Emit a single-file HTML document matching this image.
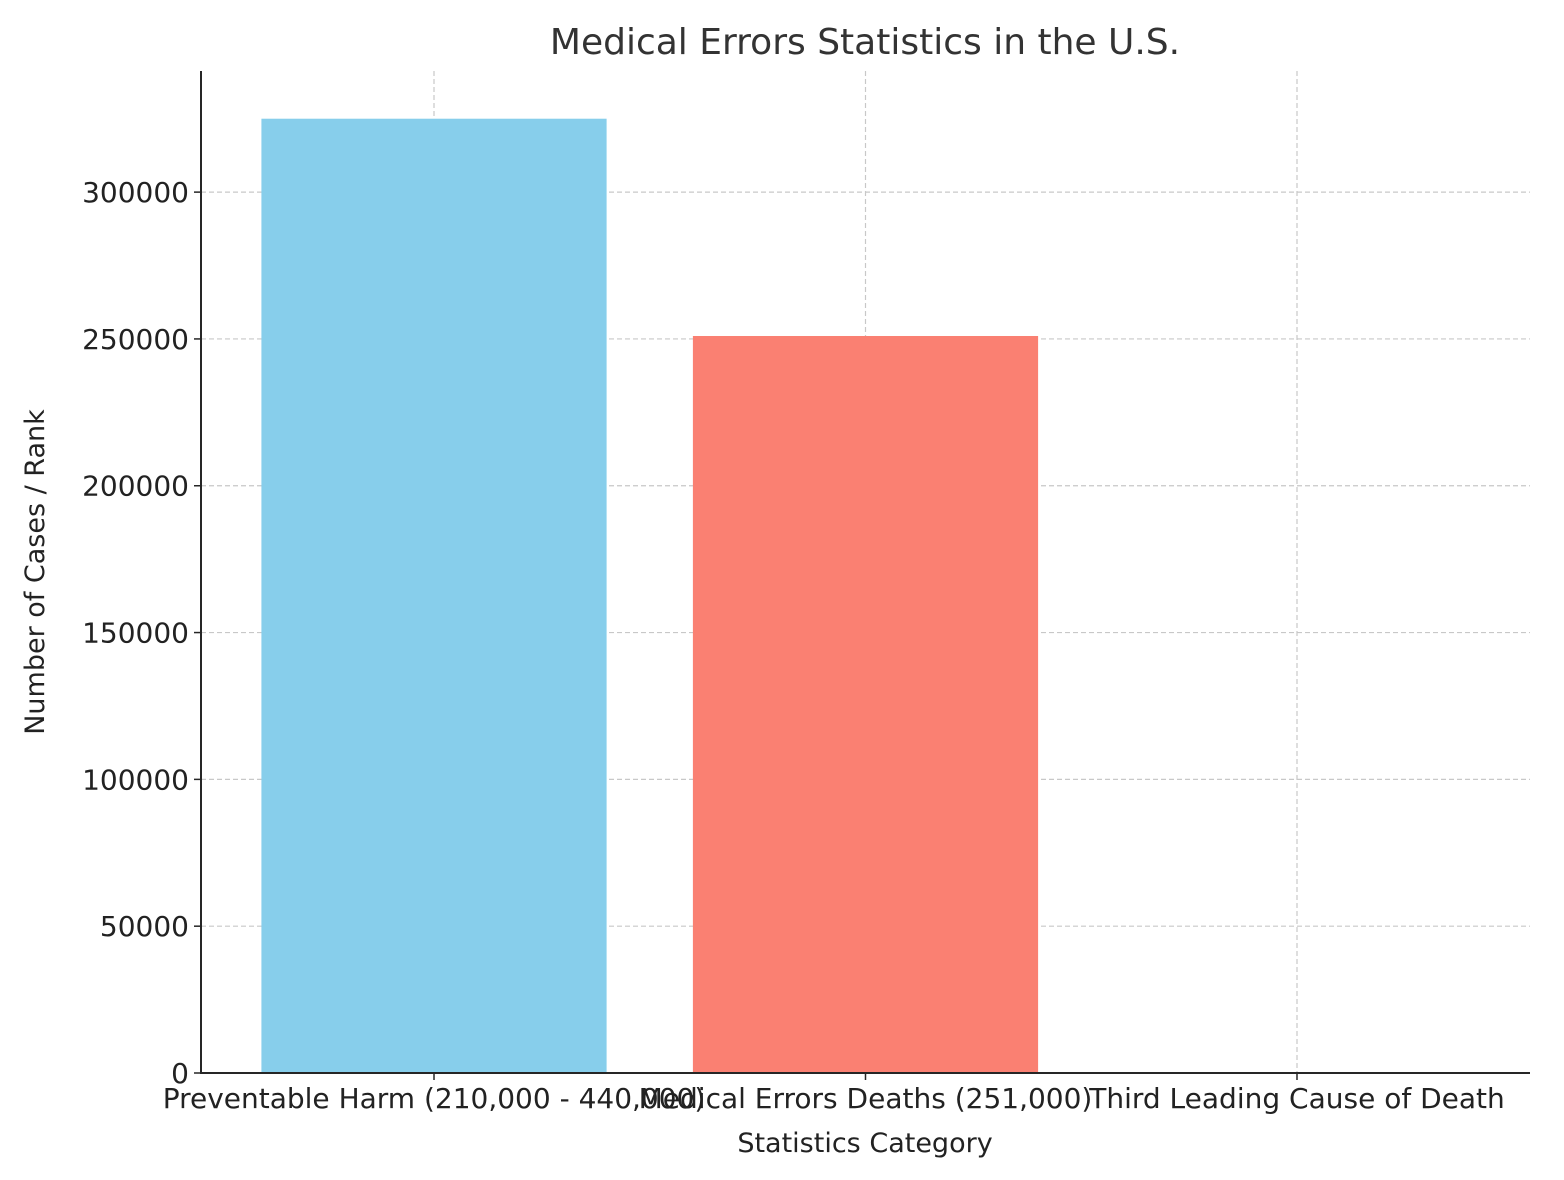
<!DOCTYPE html>
<html><head><meta charset="utf-8"><style>
body{margin:0;background:#fff;}
svg{display:block;font-family:"DejaVu Sans","Liberation Sans",sans-serif;}
</style></head><body>
<svg id="chart" width="1564" height="1180" viewBox="0 0 1564 1180" xmlns="http://www.w3.org/2000/svg">
<rect width="1564" height="1180" fill="#fff"/>
<g id="grid"></g><g id="bars"></g><g id="axes"></g>
<text x="865" y="54" text-anchor="middle" font-size="36" fill="#333">Medical Errors Statistics in the U.S.</text>
<text x="865" y="1152" text-anchor="middle" font-size="27" fill="#222">Statistics Category</text>
<text transform="translate(44,572) rotate(-90)" text-anchor="middle" font-size="27" fill="#222">Number of Cases / Rank</text>
</svg>
<script>
const categories=["Preventable Harm (210,000 - 440,000)","Medical Errors Deaths (251,000)","Third Leading Cause of Death"];
const values=[325000,251000,3];
const colors=["#87ceeb","#fa8072","#90ee90"];
const yTicks=[0,50000,100000,150000,200000,250000,300000];
const L=201,R=1530,T=71,B=1073;
const xmin=-0.54,xmax=2.54,ymax=Math.max(...values)*1.05;
const xs=v=>L+(v-xmin)/(xmax-xmin)*(R-L);
const ys=v=>B-v/ymax*(B-T);
const NS="http://www.w3.org/2000/svg";
function mk(tag,attrs,parent){const e=document.createElementNS(NS,tag);for(const k in attrs)e.setAttribute(k,attrs[k]);document.getElementById(parent).appendChild(e);return e;}
yTicks.forEach(t=>{
 const g=mk("line",{x1:L,x2:R,y1:ys(t),y2:ys(t),stroke:"#c8c8c8","stroke-dasharray":"5,3","stroke-width":1.2},"grid");
 
 
 const tk=mk("line",{x1:L-7,x2:L,y1:ys(t),y2:ys(t),stroke:"#262626","stroke-width":1.5},"axes");
 
 
 const tx=mk("text",{x:L-12,y:ys(t)+10,"text-anchor":"end","font-size":28,fill:"#222"},"axes");
 tx.textContent=t;
 
 
});
categories.forEach((c,i)=>{
 const g=mk("line",{x1:xs(i),x2:xs(i),y1:T,y2:B,stroke:"#c8c8c8","stroke-dasharray":"5,3","stroke-width":1.2},"grid");
 
 
 const b=mk("rect",{x:xs(i-0.4),width:xs(i+0.4)-xs(i-0.4),y:ys(values[i]),height:B-ys(values[i]),fill:colors[i]},"bars");
 
 
 const tk=mk("line",{x1:xs(i),x2:xs(i),y1:B,y2:B+7,stroke:"#262626","stroke-width":1.5},"axes");
 
 
 const tx=mk("text",{x:xs(i),y:B+35,"text-anchor":"middle","font-size":28,fill:"#222"},"axes");
 tx.textContent=c;
 
 
});
const ax=mk("path",{d:`M${L} ${T}V${B}H${R}`,fill:"none",stroke:"#262626","stroke-width":2},"axes");


</script>
</body></html>
